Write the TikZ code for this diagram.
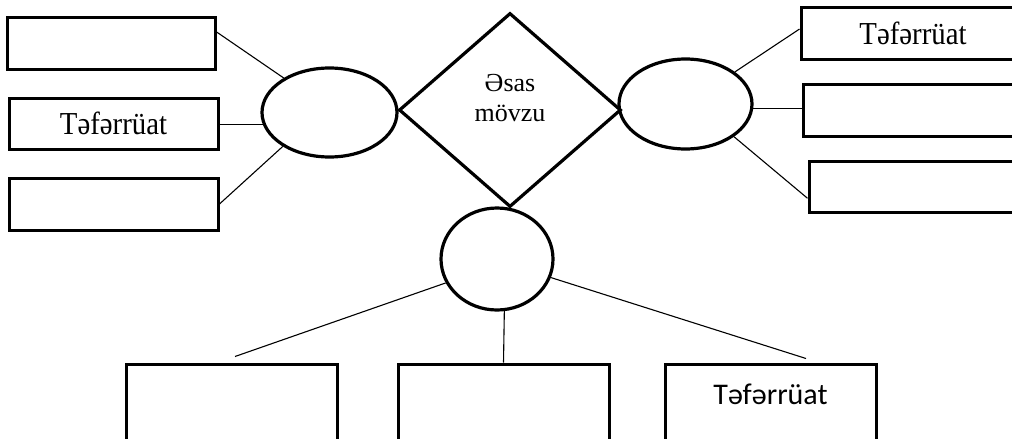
\documentclass[tikz,border=0pt]{standalone}
\usepackage{fontspec}
\setmainfont{Liberation Serif}
\newfontfamily\detailfont[FakeStretch=0.9]{Liberation Serif}
\newfontfamily\calibrifont{Carlito}
\usetikzlibrary{shapes.geometric}

\begin{document}
\begin{tikzpicture}[x=0.5pt,y=-0.5pt,
  box/.style={draw, line width=1.5pt, rectangle, inner sep=0pt},
  oval/.style={draw, line width=1.6pt, ellipse, inner sep=0pt},
  link/.style={draw, line width=0.55pt},
  detail/.style={font=\detailfont\fontsize{16}{19}\selectfont}]

\useasboundingbox (0,0) rectangle (1012,439);

% main topic
\node[draw, diamond, line width=1.6pt, inner sep=0pt,
      minimum width=111pt, minimum height=97pt] (topic) at (510,110) {};
\node[align=center, inner sep=0pt, font=\fontsize{13}{15}\selectfont]
      (topictext) at (510,98.5) {Əsas\\mövzu};

% sub-topics
\node[oval, minimum width=67.5pt, minimum height=44.5pt] (le) at (329.5,112.5) {};
\node[oval, minimum width=66.5pt, minimum height=45pt] (re) at (685.5,104) {};
\node[oval, minimum width=56pt, minimum height=51pt] (bc) at (497,259) {};

% details, left
\node[box, minimum width=104pt, minimum height=26pt] (L1) at (111,43) {};
\node[box, minimum width=104.5pt, minimum height=25.5pt, detail] (L2) at (113.5,123.5) {Təfərrüat};
\node[box, minimum width=104.5pt, minimum height=26pt] (L3) at (113.5,204) {};

% details, right
\node[box, minimum width=112pt, minimum height=26pt, detail] (R1) at (913,33) {Təfərrüat};
\node[box, minimum width=113.5pt, minimum height=26pt] (R2) at (916.5,110) {};
\node[box, minimum width=110.5pt, minimum height=25.5pt] (R3) at (919.5,186.5) {};

% details, bottom
\node[box, minimum width=105.5pt, minimum height=43pt] (B1) at (231.5,407) {};
\node[box, minimum width=105.5pt, minimum height=43pt] (B2) at (503.5,407) {};
\node[box, minimum width=105.5pt, minimum height=43pt] (B3) at (770.5,407) {};
\node[anchor=base, inner sep=0pt, font=\calibrifont\fontsize{15}{18}\selectfont]
      (B3text) at (770.5,404) {Təfərrüat};

% connectors
\draw[link] (L1.6) -- (le.143);
\draw[link] (le.190) -- (le.190 -| L2.east);
\draw[link] (L3.east) -- (le.216);
\draw[link] (re.33) -- (R1.178);
\draw[link] (re.356) -- (re.356 -| R2.west);
\draw[link] (re.326) -- (R3.186);
\coordinate (B1top) at ([xshift=1.75pt, yshift=3pt]B1.north);
\coordinate (B3top) at ([xshift=17.75pt, yshift=2pt]B3.north);
\draw[link] (bc.205) -- (B1top);
\draw[link] (bc.278) -- (B2.north);
\draw[link] (bc.341) -- (B3top);
\end{tikzpicture}
\end{document}
